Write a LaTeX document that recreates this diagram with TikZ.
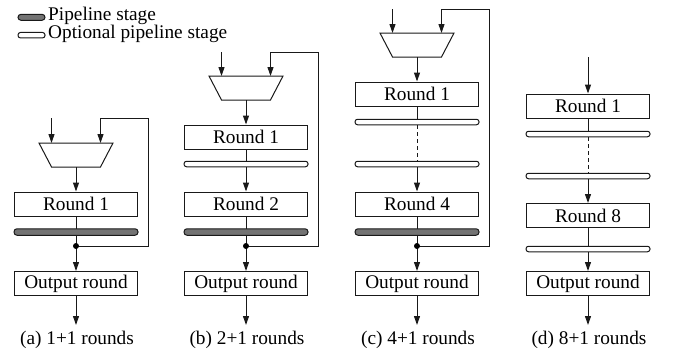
\documentclass[tikz,border=0pt]{standalone}
\usepackage{fontspec}
\setmainfont{Liberation Serif}
\usetikzlibrary{arrows.meta}
\begin{document}
\begin{tikzpicture}[x=1pt,y=-1pt,
  every node/.style={font=\fontsize{19.3}{22}\selectfont},
  ln/.style={draw=black!90, line width=1pt},
  arr/.style={ln, -{Triangle[length=9pt,width=6pt]}},
  rbox/.style={draw=black!90, line width=1pt, minimum width=123pt, minimum height=24pt, inner sep=0pt},
  pstage/.style={draw=black!90, line width=1pt, fill=black!55, rounded corners=3pt, minimum width=124pt, minimum height=6.5pt, inner sep=0pt},
  ostage/.style={draw=black!90, line width=1pt, fill=white, rounded corners=2.5pt, minimum width=124pt, minimum height=5.5pt, inner sep=0pt},
  lpstage/.style={pstage, minimum width=27pt, minimum height=6pt},
  lostage/.style={ostage, minimum width=27pt, minimum height=5.5pt},
  dot/.style={circle, fill=black, inner sep=0pt, minimum size=6pt},
  mux/.style={draw=black!90, line width=1pt, line join=miter},
  captext/.style={anchor=center},
  legtext/.style={anchor=base west, inner sep=0pt}
]
\useasboundingbox (0,0) rectangle (674,351);

% legend
\node[lpstage] (lp) at (31.5,17.3) {};
\node[legtext] (lpt) at (48,20.2) {Pipeline stage};
\node[lostage] (lo) at (31.5,35.2) {};
\node[legtext] (lot) at (48,38.4) {Optional pipeline stage};

% ---------- (a) ----------
\coordinate (ainL) at (51.5,118);
\coordinate (ainR) at (100.5,118);
\coordinate (amL) at (51.5,143);
\coordinate (amR) at (100.5,143);
\coordinate (amb) at (76,167);
\draw[mux] (39,143) -- (113,143) -- (100.5,167) -- (51.5,167) -- cycle;
\node[rbox] (ar1) at (76,204) {Round 1};
\coordinate (aj) at (76,246);
\coordinate (afb1) at (148,246);
\coordinate (afb2) at (148,118);
\node[rbox] (aout) at (76,283.5) {Output round};
\coordinate (aend) at (76,325);
\draw[arr] (ainL) -- (amL);
\draw[arr] (afb2) -- (ainR) -- (amR);
\draw[arr] (amb) -- (ar1);
\draw[ln] (ar1) -- (aj);
\draw[ln] (aj) -- (afb1) -- (afb2);
\draw[arr] (aj) -- (aout);
\draw[arr] (aout) -- (aend);
\node[pstage] (ap) at (76,232) {};
\node[dot] (ajd) at (aj) {};
\node[captext] (acap) at (77,340) {(a) 1+1 rounds};

% ---------- (b) ----------
\coordinate (binL) at (221.5,52);
\coordinate (binR) at (270.5,52);
\coordinate (bmL) at (221.5,76);
\coordinate (bmR) at (270.5,76);
\coordinate (bmb) at (246,100);
\draw[mux] (209,76) -- (283,76) -- (270.5,100) -- (221.5,100) -- cycle;
\node[rbox] (br1) at (246,137) {Round 1};
\node[rbox] (br2) at (246,204) {Round 2};
\coordinate (bj) at (246,246);
\coordinate (bfb1) at (318,246);
\coordinate (bfb2) at (318,52);
\node[rbox] (bout) at (246,283.5) {Output round};
\coordinate (bend) at (246,325);
\draw[arr] (binL) -- (bmL);
\draw[arr] (bfb2) -- (binR) -- (bmR);
\draw[arr] (bmb) -- (br1);
\draw[arr] (br1) -- (br2);
\draw[ln] (br2) -- (bj);
\draw[ln] (bj) -- (bfb1) -- (bfb2);
\draw[arr] (bj) -- (bout);
\draw[arr] (bout) -- (bend);
\node[ostage] (bo1) at (246,164) {};
\node[pstage] (bp) at (246,232) {};
\node[dot] (bjd) at (bj) {};
\node[captext] (bcap) at (247,340) {(b) 2+1 rounds};

% ---------- (c) ----------
\coordinate (cinL) at (392.5,9);
\coordinate (cinR) at (441.5,9);
\coordinate (cmL) at (392.5,33);
\coordinate (cmR) at (441.5,33);
\coordinate (cmb) at (417,57);
\draw[mux] (380,33) -- (454,33) -- (441.5,57) -- (392.5,57) -- cycle;
\node[rbox] (cr1) at (417,94) {Round 1};
\node[ostage] (co1) at (417,122) {};
\node[ostage] (co2) at (417,164) {};
\node[rbox] (cr4) at (417,204) {Round 4};
\coordinate (cj) at (417,246);
\coordinate (cfb1) at (489,246);
\coordinate (cfb2) at (489,9);
\node[rbox] (cout) at (417,283.5) {Output round};
\coordinate (cend) at (417,325);
\draw[arr] (cinL) -- (cmL);
\draw[arr] (cfb2) -- (cinR) -- (cmR);
\draw[arr] (cmb) -- (cr1);
\draw[ln] (cr1) -- (co1);
\draw[ln, dashed, dash pattern=on 4pt off 3pt] (co1) -- (co2);
\draw[arr] (co2) -- (cr4);
\draw[ln] (cr4) -- (cj);
\draw[ln] (cj) -- (cfb1) -- (cfb2);
\draw[arr] (cj) -- (cout);
\draw[arr] (cout) -- (cend);
\node[pstage] (cp) at (417,232) {};
\node[dot] (cjd) at (cj) {};
\node[captext] (ccap) at (418,340) {(c) 4+1 rounds};

% ---------- (d) ----------
\coordinate (din) at (588,57);
\node[rbox] (dr1) at (588,106) {Round 1};
\node[ostage] (do1) at (588,134) {};
\node[ostage] (do2) at (588,176) {};
\node[rbox] (dr8) at (588,215.5) {Round 8};
\node[ostage] (do3) at (588,249) {};
\node[rbox] (dout) at (588,283.5) {Output round};
\coordinate (dend) at (588,325);
\draw[arr] (din) -- (dr1);
\draw[ln] (dr1) -- (do1);
\draw[ln, dashed, dash pattern=on 4pt off 3pt] (do1) -- (do2);
\draw[arr] (do2) -- (dr8);
\draw[ln] (dr8) -- (do3);
\draw[arr] (do3) -- (dout);
\draw[arr] (dout) -- (dend);
\node[captext] (dcap) at (589,340) {(d) 8+1 rounds};
\end{tikzpicture}
\end{document}
